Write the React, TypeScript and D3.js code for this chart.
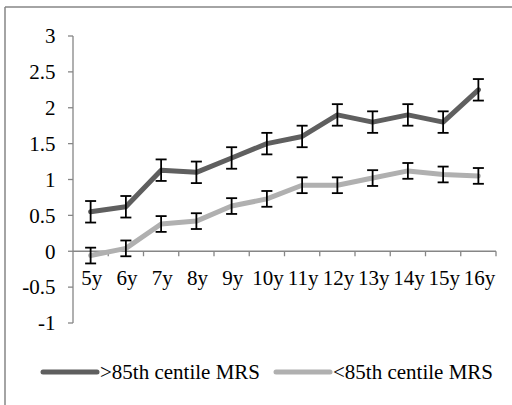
import React from "react";
import * as d3 from "d3";

const categories = ["5y", "6y", "7y", "8y", "9y", "10y", "11y", "12y", "13y", "14y", "15y", "16y"];
const highValues = [0.55, 0.62, 1.13, 1.1, 1.3, 1.5, 1.6, 1.9, 1.8, 1.9, 1.8, 2.25];
const highErrors = [0.15, 0.15, 0.15, 0.15, 0.15, 0.15, 0.15, 0.15, 0.15, 0.15, 0.15, 0.15];
const lowValues = [-0.06, 0.04, 0.38, 0.42, 0.63, 0.73, 0.92, 0.92, 1.02, 1.12, 1.07, 1.05];
const lowErrors = [0.11, 0.11, 0.11, 0.11, 0.11, 0.11, 0.11, 0.11, 0.11, 0.11, 0.11, 0.11];
const yTicks = [-1, -0.5, 0, 0.5, 1, 1.5, 2, 2.5, 3];
const seriesNames = [">85th centile MRS", "<85th centile MRS"];

const W = 512;
const H = 405;
const FONT = "'Liberation Serif', 'Times New Roman', serif";
const FS = 21;

export default function App() {
  const x = d3.scaleBand<string>().domain(categories).range([73, 496]).padding(0);
  const y = d3.scaleLinear().domain([-1, 3]).range([323, 36]);
  const cx = (c: string) => (x(c) as number) + x.bandwidth() / 2;
  const line = d3
    .line<number>()
    .x((_, i) => cx(categories[i]))
    .y((d) => y(d));

  const series = [
    { name: seriesNames[0], values: highValues, errors: highErrors, color: "#5f5f5f" },
    { name: seriesNames[1], values: lowValues, errors: lowErrors, color: "#b0b0b0" },
  ];
  const axisColor = "#868686";
  const capW = 5.5;
  const textStyle = { fontFamily: FONT, fontSize: FS };

  return (
    <svg width={W} height={H} style={{ position: "absolute", left: 0, top: 0 }}>
      <rect x={0} y={0} width={W} height={H} fill="#fff" />
      <line x1={5} y1={7} x2={W} y2={7} stroke={axisColor} strokeWidth={1.5} />
      <line x1={5} y1={7} x2={5} y2={H} stroke={axisColor} strokeWidth={1.5} />

      {/* y axis */}
      <line x1={73} y1={y(3)} x2={73} y2={y(-1)} stroke={axisColor} strokeWidth={1.3} />
      {yTicks.map((t) => (
        <g key={t}>
          <line x1={68} x2={73} y1={y(t)} y2={y(t)} stroke={axisColor} strokeWidth={1.3} />
          <text x={55.5} y={y(t)} dy="0.35em" textAnchor="end" style={textStyle} fill="#000">
            {t}
          </text>
        </g>
      ))}

      {/* x axis at 0 */}
      <line x1={73} x2={496} y1={y(0)} y2={y(0)} stroke={axisColor} strokeWidth={1.3} />
      {categories.map((c) => (
        <line
          key={"t" + c}
          x1={(x(c) as number) + x.bandwidth()}
          x2={(x(c) as number) + x.bandwidth()}
          y1={y(0)}
          y2={y(0) + 5}
          stroke={axisColor}
          strokeWidth={1.3}
        />
      ))}
      {categories.map((c) => (
        <text key={"l" + c} x={cx(c) + 1} y={278} dy="0.35em" textAnchor="middle" style={textStyle} fill="#000">
          {c}
        </text>
      ))}

      {series.map((s) => (
        <path
          key={s.name}
          d={line(s.values) || ""}
          fill="none"
          stroke={s.color}
          strokeWidth={5}
          strokeLinejoin="round"
          strokeLinecap="round"
        />
      ))}
      {series.map((s) => (
        <g key={"e" + s.name}>
          {s.values.map((v, i) => {
            const px = cx(categories[i]);
            const top = y(v + s.errors[i]);
            const bot = y(v - s.errors[i]);
            return (
              <g key={i} stroke="#000" strokeWidth={1.8}>
                <line x1={px} x2={px} y1={top} y2={bot} />
                <line x1={px - capW} x2={px + capW} y1={top} y2={top} />
                <line x1={px - capW} x2={px + capW} y1={bot} y2={bot} />
              </g>
            );
          })}
        </g>
      ))}

      {/* legend */}
      {series.map((s, i) => {
        const lx = i === 0 ? 43 : 276;
        return (
          <g key={"lg" + s.name}>
            <line x1={lx} x2={lx + 54} y1={372} y2={372} stroke={s.color} strokeWidth={5} strokeLinecap="round" />
            <text x={lx + 57} y={372} dy="0.35em" style={textStyle} fill="#000">
              {s.name}
            </text>
          </g>
        );
      })}
    </svg>
  );
}
